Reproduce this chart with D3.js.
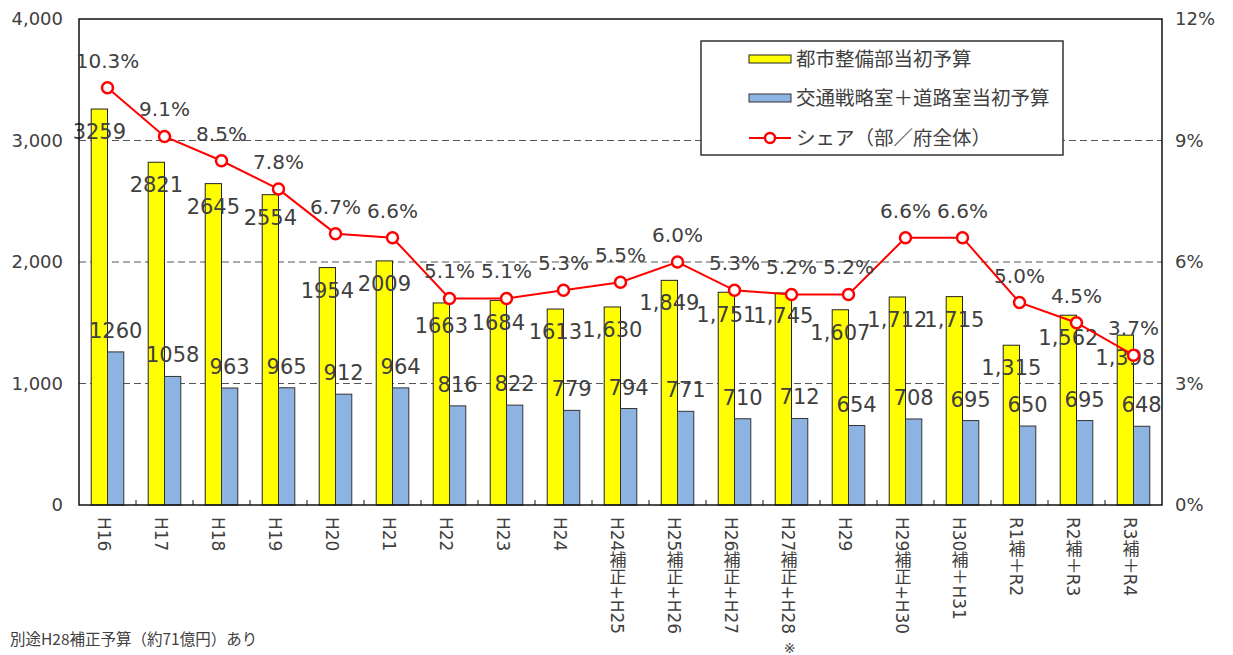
<!DOCTYPE html>
<html>
<head>
<meta charset="utf-8">
<script src="https://cdn.jsdelivr.net/npm/d3@7"></script>
<style>
  body { margin: 0; background: #fff; }
  svg text { font-family: "DejaVu Sans", "Noto Sans CJK JP", sans-serif; fill: #404040; }
</style>
</head>
<body>
<div id="chart"></div>
<script>
// categories (fiscal years)
const categories = ["H16", "H17", "H18", "H19", "H20", "H21", "H22", "H23", "H24",
    "H24補正+H25", "H25補正+H26", "H26補正+H27", "H27補正+H28", "H29",
    "H29補正+H30", "H30補＋H31", "R1補＋R2", "R2補＋R3", "R3補＋R4"];

// 都市整備部当初予算 (億円)
const cityBudget = [3259, 2821, 2645, 2554, 1954, 2009, 1663, 1684, 1613,
    1630, 1849, 1751, 1745, 1607, 1712, 1715, 1315, 1562, 1398];

// 交通戦略室＋道路室当初予算 (億円)
const roadBudget = [1260, 1058, 963, 965, 912, 964, 816, 822, 779,
    794, 771, 710, 712, 654, 708, 695, 650, 695, 648];

// シェア（部／府全体） %
const share = [10.3, 9.1, 8.5, 7.8, 6.7, 6.6, 5.1, 5.1, 5.3,
    5.5, 6.0, 5.3, 5.2, 5.2, 6.6, 6.6, 5.0, 4.5, 3.7];

const leftTicks = [0, 1000, 2000, 3000, 4000];
const rightTicks = [0, 3, 6, 9, 12];
const commaFrom = 9; // yellow labels use thousands separator from this index on

const seriesNames = ["都市整備部当初予算", "交通戦略室＋道路室当初予算", "シェア（部／府全体）"];
const note = "別途H28補正予算（約71億円）あり";

const W = 1233, H = 655;
const margin = {top: 19, right: 71, bottom: 150, left: 79};
const width = W - margin.left - margin.right;
const height = H - margin.top - margin.bottom;

const svg = d3.select("#chart").append("svg")
    .attr("width", W)
    .attr("height", H);

const g = svg.append("g")
    .attr("transform", "translate(" + margin.left + "," + margin.top + ")");

const x = d3.scaleBand().domain(categories).range([0, width]);
const xSub = d3.scaleBand().domain(["city", "road"]).range([0, x.bandwidth()]).paddingOuter(0.75);
const y = d3.scaleLinear().domain([0, 4000]).range([height, 0]);
const y2 = d3.scaleLinear().domain([0, 12]).range([height, 0]);

// gridlines
g.append("g").selectAll("line")
    .data(leftTicks.filter(d => d > 0 && d < 4000))
    .enter().append("line")
    .attr("x1", 0).attr("x2", width)
    .attr("y1", d => y(d)).attr("y2", d => y(d))
    .attr("stroke", "#555")
    .attr("stroke-width", 1)
    .attr("stroke-dasharray", "7,4");

// bars
const groups = g.append("g").selectAll("g")
    .data(categories)
    .enter().append("g")
    .attr("transform", d => "translate(" + x(d) + ",0)");

groups.append("rect")
    .attr("x", xSub("city"))
    .attr("y", (d, i) => y(cityBudget[i]))
    .attr("width", xSub.bandwidth())
    .attr("height", (d, i) => height - y(cityBudget[i]))
    .attr("fill", "#FFFF00")
    .attr("stroke", "#222")
    .attr("stroke-width", 1);

groups.append("rect")
    .attr("x", xSub("road"))
    .attr("y", (d, i) => y(roadBudget[i]))
    .attr("width", xSub.bandwidth())
    .attr("height", (d, i) => height - y(roadBudget[i]))
    .attr("fill", "#8DB3E2")
    .attr("stroke", "#333")
    .attr("stroke-width", 1);

// plot border
g.append("rect")
    .attr("width", width).attr("height", height)
    .attr("fill", "none")
    .attr("stroke", "#111")
    .attr("stroke-width", 1.5);

// small ticks at band boundaries
g.append("g").selectAll("line")
    .data(categories.slice(1))
    .enter().append("line")
    .attr("x1", d => x(d)).attr("x2", d => x(d))
    .attr("y1", height).attr("y2", height - 5)
    .attr("stroke", "#111");

// axes
const yAxis = g.append("g")
    .call(d3.axisLeft(y).tickValues(leftTicks).tickSize(0).tickPadding(16).tickFormat(d3.format(",")));
const y2Axis = g.append("g")
    .attr("transform", "translate(" + width + ",0)")
    .call(d3.axisRight(y2).tickValues(rightTicks).tickSize(0).tickPadding(13).tickFormat(d => d + "%"));
[yAxis, y2Axis].forEach(a => {
    a.select(".domain").remove();
    a.selectAll("text").attr("font-size", 18).attr("font-family", null).attr("fill", null);
});

const xAxis = g.append("g")
    .attr("transform", "translate(0," + height + ")")
    .call(d3.axisBottom(x).tickSize(0));
xAxis.select(".domain").remove();
xAxis.selectAll("text")
    .attr("font-size", 17)
    .attr("font-family", null)
    .attr("fill", null)
    .attr("x", -4)
    .attr("y", 12)
    .attr("dy", null)
    .attr("text-anchor", "start")
    .style("writing-mode", "vertical-rl")
    .style("text-orientation", "mixed");

// value labels
groups.append("text")
    .attr("x", xSub("city") + xSub.bandwidth() / 2)
    .attr("y", (d, i) => y(cityBudget[i]) + 30)
    .attr("text-anchor", "middle")
    .attr("font-size", 21)
    .text((d, i) => i >= commaFrom ? d3.format(",")(cityBudget[i]) : cityBudget[i]);

groups.append("text")
    .attr("x", xSub("road") + xSub.bandwidth() / 2)
    .attr("y", (d, i) => y(roadBudget[i]) - 14)
    .attr("text-anchor", "middle")
    .attr("font-size", 21)
    .text((d, i) => roadBudget[i]);

// share line
const cx = (d, i) => x(categories[i]) + x.bandwidth() / 2;
const line = d3.line()
    .x((d, i) => cx(d, i))
    .y(d => y2(d));

g.append("path")
    .datum(share)
    .attr("d", line)
    .attr("fill", "none")
    .attr("stroke", "#FF0000")
    .attr("stroke-width", 2);

g.append("g").selectAll("circle")
    .data(share)
    .enter().append("circle")
    .attr("cx", cx)
    .attr("cy", d => y2(d))
    .attr("r", 5.5)
    .attr("fill", "#fff")
    .attr("stroke", "#FF0000")
    .attr("stroke-width", 2.5);

g.append("g").selectAll("text")
    .data(share)
    .enter().append("text")
    .attr("x", cx)
    .attr("y", d => y2(d) - 20)
    .attr("text-anchor", "middle")
    .attr("font-size", 20)
    .text(d => d.toFixed(1) + "%");

// legend
const legend = svg.append("g");
legend.append("rect")
    .attr("x", 701).attr("y", 41)
    .attr("width", 362).attr("height", 114)
    .attr("fill", "#fff")
    .attr("stroke", "#333")
    .attr("stroke-width", 1.5);

const rows = [59, 98, 138];
legend.append("rect")
    .attr("x", 749).attr("y", rows[0] - 4).attr("width", 42).attr("height", 8)
    .attr("fill", "#FFFF00").attr("stroke", "#222");
legend.append("rect")
    .attr("x", 749).attr("y", rows[1] - 4).attr("width", 42).attr("height", 8)
    .attr("fill", "#8DB3E2").attr("stroke", "#333");
legend.append("line")
    .attr("x1", 749).attr("x2", 791).attr("y1", rows[2]).attr("y2", rows[2])
    .attr("stroke", "#FF0000").attr("stroke-width", 2);
legend.append("circle")
    .attr("cx", 770).attr("cy", rows[2]).attr("r", 5)
    .attr("fill", "#fff").attr("stroke", "#FF0000").attr("stroke-width", 2.5);

legend.selectAll("text.lg")
    .data(seriesNames)
    .enter().append("text")
    .attr("class", "lg")
    .attr("x", 796)
    .attr("y", (d, i) => rows[i] + 7)
    .attr("font-size", 19.5)
    .style("font-family", "'Noto Sans CJK JP', sans-serif")
    .text(d => d);

// notes
svg.append("text")
    .attr("x", 10).attr("y", 645)
    .attr("font-size", 15.5)
    .style("font-family", "'Noto Sans CJK JP', sans-serif")
    .attr("fill", "#222")
    .text(note);

svg.append("text")
    .attr("x", x(categories[12]) + margin.left + x.bandwidth() / 2 - 2)
    .attr("y", 653)
    .attr("text-anchor", "middle")
    .attr("font-size", 14)
    .attr("fill", "#222")
    .text("※");
</script>
</body>
</html>
